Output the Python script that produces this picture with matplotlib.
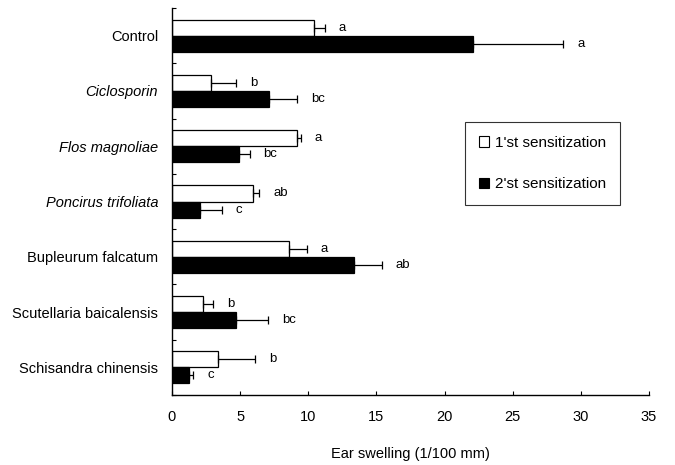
import matplotlib
matplotlib.use("Agg")
import matplotlib.pyplot as plt
from matplotlib.patches import Patch
import numpy as np

plt.rcParams['font.family'] = ['Liberation Sans', 'DejaVu Sans']

categories = ["Control", "Ciclosporin", "Flos magnoliae", "Poncirus trifoliata",
              "Bupleurum falcatum", "Scutellaria baicalensis", "Schisandra chinensis"]
italic_cats = ["Ciclosporin", "Flos magnoliae", "Poncirus trifoliata"]

first_mean = [10.4, 2.85, 9.2, 5.95, 8.6, 2.3, 3.4]
first_err = [0.8, 1.85, 0.25, 0.45, 1.3, 0.7, 2.7]
first_letters = ["a", "b", "a", "ab", "a", "b", "b"]

second_mean = [22.1, 7.1, 4.9, 2.05, 13.35, 4.7, 1.25]
second_err = [6.6, 2.1, 0.8, 1.6, 2.05, 2.35, 0.3]
second_letters = ["a", "bc", "bc", "c", "ab", "bc", "c"]

legend_labels = ["1'st sensitization", "2'st sensitization"]
xlabel = "Ear swelling (1/100 mm)"
xticks = [0, 5, 10, 15, 20, 25, 30, 35]

fig = plt.figure(figsize=(6.75, 4.65), dpi=100)
ax = fig.add_axes([0.2548, 0.1505, 0.7067, 0.8323])

y = np.arange(len(categories))
h = 0.29
y1 = y - h / 2
y2 = y + h / 2

ax.barh(y1, first_mean, height=h, color="white", edgecolor="black", linewidth=0.9, zorder=2)
ax.barh(y2, second_mean, height=h, color="black", edgecolor="black", linewidth=0.9, zorder=2)

zeros = np.zeros(len(categories))
ax.errorbar(first_mean, y1, xerr=[zeros, first_err], fmt="none", ecolor="black",
            elinewidth=0.9, capsize=3, capthick=0.9, zorder=3)
ax.errorbar(second_mean, y2, xerr=[zeros, second_err], fmt="none", ecolor="black",
            elinewidth=0.9, capsize=3, capthick=0.9, zorder=3)

for i in range(len(categories)):
    ax.annotate(first_letters[i], (first_mean[i] + first_err[i], y1[i]),
                xytext=(10, 0), textcoords="offset points", ha="left", va="center", fontsize=9.5)
    ax.annotate(second_letters[i], (second_mean[i] + second_err[i], y2[i]),
                xytext=(10, 0), textcoords="offset points", ha="left", va="center", fontsize=9.5)

ax.set_ylim(len(categories) - 0.5, -0.5)
ax.set_xlim(0, 35)
ax.set_xticks(xticks)
ax.set_xticklabels([str(t) for t in xticks], fontsize=10.5)
ax.set_yticks(y)
ax.set_yticklabels(categories, fontsize=10.5)
for lbl in ax.get_yticklabels():
    if lbl.get_text() in italic_cats:
        lbl.set_fontstyle("italic")
ax.set_yticks(np.arange(len(categories) + 1) - 0.5, minor=True)
ax.tick_params(axis="y", which="major", length=0, pad=10)
ax.tick_params(axis="y", which="minor", direction="in", length=3, width=0.8)
ax.tick_params(axis="x", direction="in", length=3, width=0.8, pad=11)

for s in ["top", "right"]:
    ax.spines[s].set_visible(False)
for s in ["left", "bottom"]:
    ax.spines[s].set_linewidth(1.0)

ax.set_xlabel(xlabel, fontsize=10.5, labelpad=16)

handles = [Patch(facecolor="white", edgecolor="black", linewidth=0.8),
           Patch(facecolor="black", edgecolor="black", linewidth=0.8)]
leg = ax.legend(handles, legend_labels, loc="upper left", bbox_to_anchor=(0.614, 0.705),
                frameon=True, fancybox=False, edgecolor="black", fontsize=11,
                handlelength=0.7, handleheight=0.7, handletextpad=0.4,
                labelspacing=1.8, borderpad=0.9, borderaxespad=0)
leg.get_frame().set_linewidth(0.8)

fig.savefig("out.png", dpi=100)
